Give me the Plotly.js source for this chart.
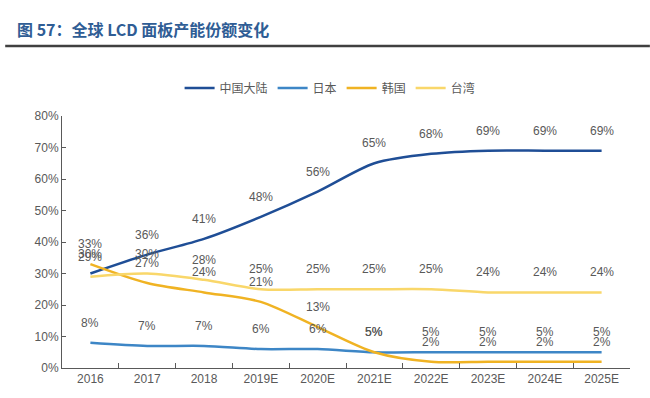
<!DOCTYPE html>
<html><head><meta charset="utf-8">
<script src="https://cdn.plot.ly/plotly-3.0.1.min.js"></script>
<style>html,body{margin:0;padding:0;background:#fff}</style>
</head><body><div id="chart" style="width:650px;height:398px"></div>
<script>
const categories = ['2016','2017','2018','2019E','2020E','2021E','2022E','2023E','2024E','2025E'];
const china  = [30,36,41,48,56,65,68,69,69,69];
const japan  = [8,7,7,6,6,5,5,5,5,5];
const korea  = [33,27,24,21,13,5,2,2,2,2];
const taiwan = [29,30,28,25,25,25,25,24,24,24];
const seriesNames = ['中国大陆','日本','韩国','台湾'];
const colors = ['#1f4e96','#3d86c6','#f0b323','#f9d76a'];
const seriesData = [china, japan, korea, taiwan];
const yTicks = [0,10,20,30,40,50,60,70,80];

const traces = seriesData.map((vals,i)=>({
  type:'scatter', mode:'lines', x:categories, y:vals, name:seriesNames[i],
  line:{color:colors[i], width:2.5, shape:'spline', smoothing:0.8},
  hoverinfo:'skip'
}));

const annotations = [];
seriesData.forEach(vals=>{
  vals.forEach((v,j)=>{
    annotations.push({x:j, y:v, xref:'x', yref:'y', text:v+'%', showarrow:false,
      yshift:20, font:{family:'Liberation Sans, Arial, sans-serif', size:12, color:'#595959'}});
  });
});
annotations.push({xref:'paper', yref:'paper', x:-0.083, y:1.345, xanchor:'left', yanchor:'middle', showarrow:false,
  text:'<b>图 57：全球 LCD 面板产能份额变化</b>', font:{family:'Noto Sans CJK SC, sans-serif', size:16, color:'#2f5d95'}});

const layout = {
  width:650, height:398,
  margin:{l:62, r:20, t:116, b:30},
  paper_bgcolor:'#fff', plot_bgcolor:'#fff',
  showlegend:true,
  legend:{orientation:'h', x:0.472, xanchor:'center', y:1.111, yanchor:'middle',
    font:{family:'Noto Sans CJK SC, sans-serif', size:12, color:'#595959'}},
  xaxis:{type:'category', range:[-0.5,9.5], showline:true, linecolor:'#595959', linewidth:1, ticks:'inside', tickson:'boundaries',
    ticklen:5, tickcolor:'#595959', showgrid:false, zeroline:false, tickangle:0,
    tickfont:{family:'Liberation Sans, Arial, sans-serif', size:12, color:'#595959'}},
  yaxis:{range:[0,80], tickvals:yTicks, ticktext:yTicks.map(t=>t+'%'), showline:true, linecolor:'#595959', linewidth:1,
    ticks:'inside', ticklen:4, tickcolor:'#595959', showgrid:false, zeroline:false,
    tickfont:{family:'Liberation Sans, Arial, sans-serif', size:12, color:'#595959'}},
  annotations:annotations,
  shapes:[{type:'line', xref:'paper', yref:'paper', x0:-0.1, x1:1.035, y0:1.278, y1:1.278, line:{color:'#404040', width:2.5}}]
};
Plotly.newPlot('chart', traces, layout, {displayModeBar:false, staticPlot:true});
</script></body></html>
